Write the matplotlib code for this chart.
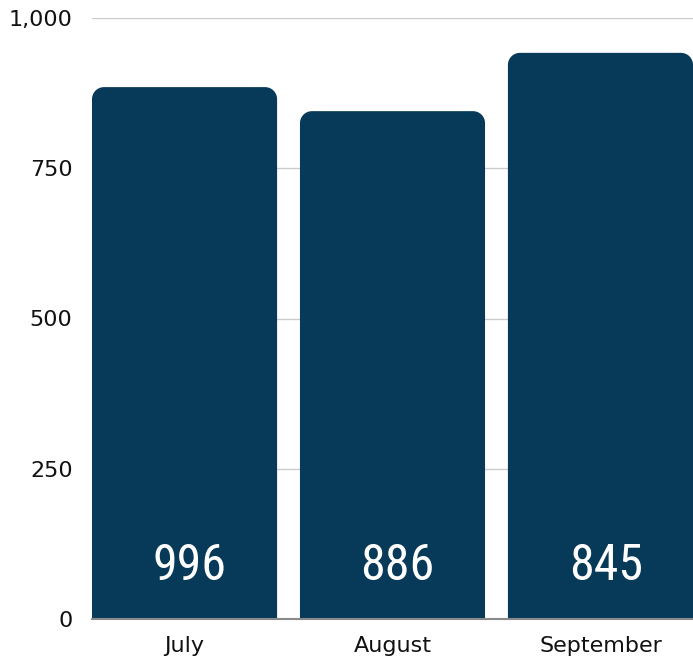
# Monthly bars with rounded tops and big in-bar labels
import matplotlib
matplotlib.use('Agg')
import matplotlib.pyplot as plt
from matplotlib.path import Path
from matplotlib.patches import PathPatch

months = ['July', 'August', 'September']
heights = [885, 845, 942]
bar_labels = ['996', '886', '845']
y_ticks = [0, 250, 500, 750, 1000]

BAR_COLOR = '#063a58'

fig = plt.figure(figsize=(6.93, 6.60), dpi=100)
ax = fig.add_axes([92 / 693, 41 / 660, 601 / 693, 601 / 660])

width = 0.89
bars = ax.bar(range(len(months)), heights, width=width, color=BAR_COLOR)

ax.set_xlim(-width / 2, len(months) - 1 + width / 2)
ax.set_ylim(0, 1000)

# rounded top corners: radius ~12px, converted to data units on each axis
px_x = (ax.get_xlim()[1] - ax.get_xlim()[0]) / 601
px_y = 1000 / 601
rx, ry = 12 * px_x, 12 * px_y
k = 0.5523
for b in bars:
    x0, y0 = b.get_x(), 0
    x1, y1 = x0 + b.get_width(), b.get_height()
    verts = [
        (x0, y0), (x0, y1 - ry),
        (x0, y1 - ry + k * ry), (x0 + rx - k * rx, y1), (x0 + rx, y1),
        (x1 - rx, y1),
        (x1 - rx + k * rx, y1), (x1, y1 - ry + k * ry), (x1, y1 - ry),
        (x1, y0), (x0, y0),
    ]
    codes = [Path.MOVETO, Path.LINETO,
             Path.CURVE4, Path.CURVE4, Path.CURVE4,
             Path.LINETO,
             Path.CURVE4, Path.CURVE4, Path.CURVE4,
             Path.LINETO, Path.CLOSEPOLY]
    ax.add_patch(PathPatch(Path(verts, codes), facecolor=BAR_COLOR,
                           edgecolor='none', zorder=2))
    b.remove()

for i, lab in enumerate(bar_labels):
    ax.text(i + 0.025, 88, lab, ha='center', va='center', color='white',
            fontsize=36, fontstretch='condensed', fontweight='normal',
            family=['Noto Sans Condensed', 'Roboto Condensed', 'Noto Sans'],
            zorder=3)

ax.set_yticks(y_ticks)
ax.set_yticklabels([f'{v:,}' for v in y_ticks])
ax.set_xticks(range(len(months)))
ax.set_xticklabels(months)
ax.tick_params(length=0, labelsize=16, labelcolor='#111111')
ax.tick_params(axis='y', pad=14)
ax.tick_params(axis='x', pad=12)

ax.grid(axis='y', color='#cccccc', linewidth=1, zorder=0)
ax.set_axisbelow(True)
for s in ['top', 'right', 'left']:
    ax.spines[s].set_visible(False)
ax.spines['bottom'].set_color('#8a8a8a')
ax.spines['bottom'].set_linewidth(1.5)
ax.spines['bottom'].set_zorder(4)

fig.savefig('out.png', dpi=100)
